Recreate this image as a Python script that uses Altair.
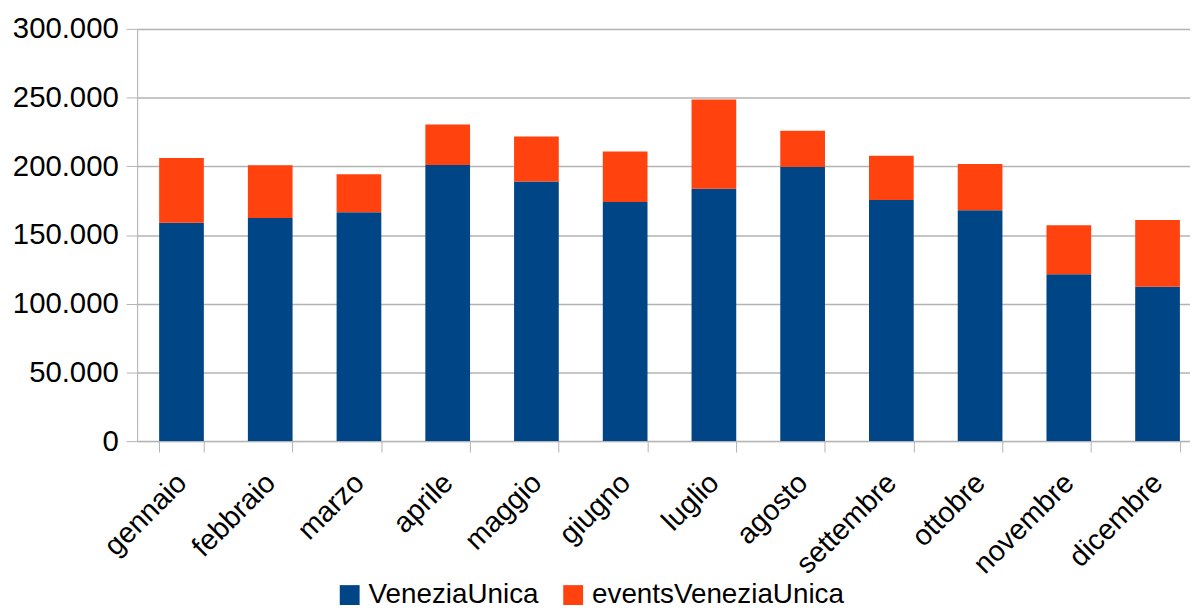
import altair as alt
import pandas as pd

months = ["gennaio", "febbraio", "marzo", "aprile", "maggio", "giugno",
          "luglio", "agosto", "settembre", "ottobre", "novembre", "dicembre"]
venezia_unica = [159000, 162400, 166500, 201000, 188900, 174000,
                 183600, 199500, 175400, 168000, 121400, 112300]
events_venezia_unica = [47000, 38300, 27700, 29400, 32800, 36800,
                        65100, 26300, 32300, 33700, 35700, 48700]
series = ["VeneziaUnica", "eventsVeneziaUnica"]
colors = ["#004586", "#ff420e"]
y_ticks = [0, 50000, 100000, 150000, 200000, 250000, 300000]

rows = []
for i, m in enumerate(months):
    rows.append({"mese": m, "serie": series[0], "valore": venezia_unica[i], "ord": 0})
    rows.append({"mese": m, "serie": series[1], "valore": events_venezia_unica[i], "ord": 1})
df = pd.DataFrame(rows)

FONT = "Liberation Sans"

chart = alt.Chart(df).mark_bar(size=45).encode(
    x=alt.X("mese:N", sort=months, title=None,
            scale=alt.Scale(range=[0, 1072], paddingInner=0.5, paddingOuter=0.25),
            axis=alt.Axis(labelAngle=-45, labelAlign="right", labelBaseline="middle",
                          labelFontSize=29, labelFont=FONT, labelColor="#000000",
                          labelPadding=26, tickBand="extent", tickSize=11,
                          tickColor="#b3b3b3", domainColor="#b3b3b3",
                          grid=False, labelOverlap=False, labelLimit=0)),
    y=alt.Y("valore:Q", stack="zero", title=None,
            scale=alt.Scale(domain=[0, 300000], nice=False),
            axis=alt.Axis(values=y_ticks, labelFontSize=29.5, labelFont=FONT,
                          labelColor="#000000", labelPadding=8, tickSize=11,
                          tickColor="#b3b3b3", domainColor="#b3b3b3",
                          gridColor="#b3b3b3", gridWidth=1.5,
                          labelExpr="replace(format(datum.value, ','), ',', '.')")),
    color=alt.Color("serie:N", sort=series,
                    scale=alt.Scale(domain=series, range=colors),
                    legend=alt.Legend(orient="none", direction="horizontal",
                                      legendX=200, legendY=556, title=None,
                                      symbolType="square", symbolSize=400,
                                      symbolStrokeWidth=0, symbolOpacity=1,
                                      labelFontSize=28, labelFont=FONT,
                                      labelColor="#000000", labelOffset=5,
                                      labelLimit=0, columnPadding=20)),
    order=alt.Order("ord:Q", sort="ascending"),
).properties(
    width=1060, height=415,
    autosize=alt.AutoSizeParams(type="none"),
    padding={"left": 130, "top": 19, "right": 0, "bottom": 166},
).configure_view(stroke=None).configure(background="white")

chart.save("out.html", embed_options={"renderer": "svg", "actions": False})
